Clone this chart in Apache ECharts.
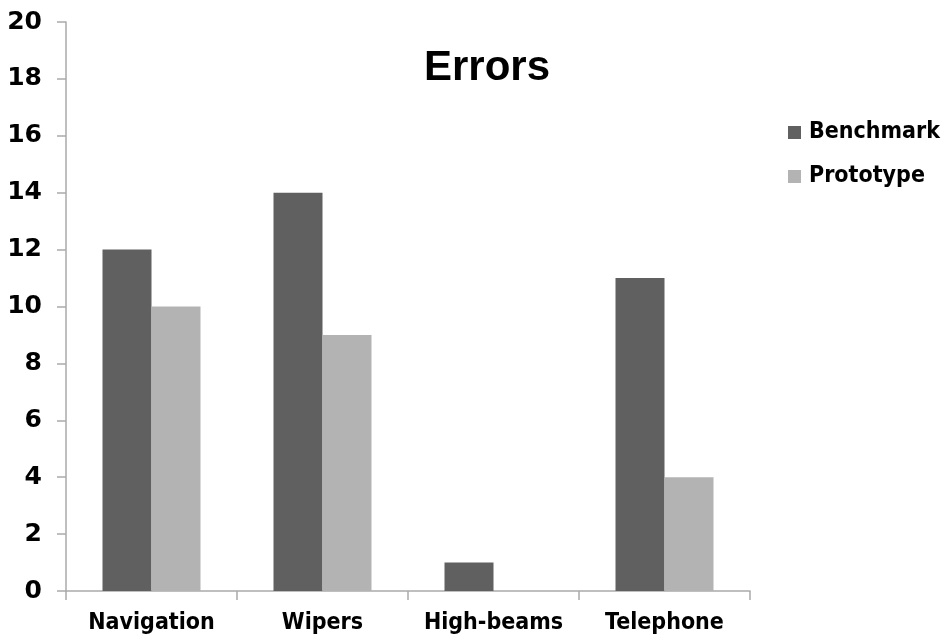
<!DOCTYPE html>
<html>
<head>
<meta charset="utf-8">
<script src="https://cdn.jsdelivr.net/npm/echarts@6/dist/echarts.min.js"></script>
<style>
  html, body { margin: 0; padding: 0; background: #fff; }
  #chart { width: 947px; height: 637px; }
</style>
</head>
<body>
<div id="chart"></div>
<script>
// 数据
const categories = ['Navigation', 'Wipers', 'High-beams', 'Telephone'];
const benchmark = [12, 14, 1, 11];
const prototype = [10, 9, 0, 4];
const yTicks = { min: 0, max: 20, interval: 2 };

const myChart = echarts.init(document.getElementById('chart'));

const option = {
  animation: false,
  backgroundColor: '#fff',
  title: {
    text: 'Errors',
    left: 482,
    top: 42,
    textAlign: 'center',
    textStyle: { fontFamily: 'Liberation Sans', fontWeight: 'bold', fontSize: 42, color: '#000' }
  },
  legend: {
    orient: 'vertical',
    left: 783,
    top: 116,
    itemWidth: 13,
    itemHeight: 13,
    itemGap: 21,
    icon: 'rect',
    textStyle: { fontFamily: 'DejaVu Sans Condensed', fontWeight: 'bold', fontSize: 23, color: '#000', padding: [0, 0, 0, 3] },
    data: ['Benchmark', 'Prototype']
  },
  grid: { left: 66, right: 197, top: 22, bottom: 46 },
  xAxis: {
    type: 'category',
    data: categories,
    axisLine: { lineStyle: { color: '#aaaaaa', width: 1.5 } },
    axisTick: { show: true, length: 9, lineStyle: { color: '#aaaaaa', width: 1.5 } },
    axisLabel: { interval: 0, margin: 21, fontFamily: 'DejaVu Sans Condensed', fontWeight: 'bold', fontSize: 23, color: '#000' }
  },
  yAxis: {
    type: 'value',
    min: yTicks.min,
    max: yTicks.max,
    interval: yTicks.interval,
    splitLine: { show: false },
    axisLine: { show: true, lineStyle: { color: '#aaaaaa', width: 1.5 } },
    axisTick: { show: true, length: 9, lineStyle: { color: '#aaaaaa', width: 1.5 } },
    axisLabel: { margin: 24, fontFamily: 'DejaVu Sans', fontWeight: 'bold', fontSize: 25, color: '#000' }
  },
  series: [
    {
      name: 'Benchmark',
      type: 'bar',
      data: benchmark,
      barWidth: 49,
      barGap: '0%',
      itemStyle: { color: '#606060' }
    },
    {
      name: 'Prototype',
      type: 'bar',
      data: prototype,
      barWidth: 49,
      itemStyle: { color: '#b3b3b3' }
    }
  ]
};

// 绘制图表
myChart.setOption(option);
</script>
</body>
</html>
